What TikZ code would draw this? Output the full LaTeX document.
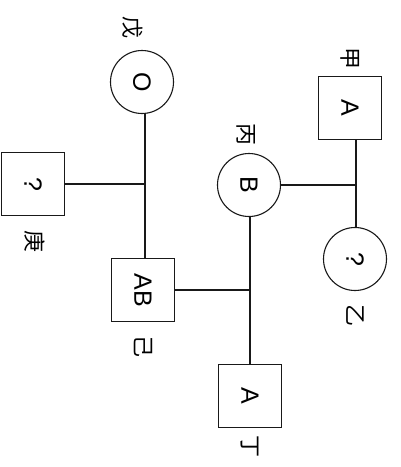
\documentclass[tikz,border=0pt]{standalone}
\usepackage{fontspec}
\setmainfont{Liberation Sans}
\newfontfamily\cjk{Noto Sans CJK SC}
\newcommand{\rot}[1]{\rotatebox{-90}{#1}}
\begin{document}
\begin{tikzpicture}[x=1pt,y=-1pt,
  person/.style={draw=black!90,line width=1.1pt,minimum size=63pt,inner sep=0pt,
     font=\fontsize{25}{25}\selectfont},
  male/.style={person,rectangle},
  female/.style={person,circle},
  lbl/.style={font=\cjk\fontsize{22}{22}\selectfont,inner sep=0pt},
  link/.style={line width=1.8pt,black!90}]
\useasboundingbox (0,0) rectangle (400,467);
% persons
\node[female] (wu) at (142,82) {\rot{O}};
\node[male] (jia) at (350,108) {\rot{A}};
\node[female] (bing) at (249,185) {\rot{B}};
\node[male] (geng) at (33,184) {\rot{?}};
\node[female] (yi) at (355,259) {\rot{?}};
\node[male] (ji) at (143,290) {\rot{AB}};
\node[male] (ding) at (250,396) {\rot{A}};
% labels
\node[lbl] (lwu) at (133,27) {\rot{戊}};
\node[lbl] (ljia) at (350,58) {\rot{甲}};
\node[lbl] (lbing) at (246,134) {\rot{丙}};
\node[lbl] (lgeng) at (35,241) {\rot{庚}};
\node[lbl] (lyi) at (355,315) {\rot{乙}};
\node[lbl] (lji) at (143,346) {\rot{己}};
\node[lbl] (lding) at (250,446) {\rot{丁}};
% junctions
\coordinate (j1) at (356,185);
\coordinate (j2) at (145,184);
\coordinate (j3) at (250,290);
% connectors
\draw[link] (jia.south -| j1) -- (j1) -- (yi.north -| j1);
\draw[link] (bing) -- (j1);
\draw[link] (wu.south -| j2) -- (j2) -- (ji.north -| j2);
\draw[link] (geng) -- (j2);
\draw[link] (bing.south -| j3) -- (j3) -- (ding.north -| j3);
\draw[link] (ji) -- (j3);
\end{tikzpicture}
\end{document}
